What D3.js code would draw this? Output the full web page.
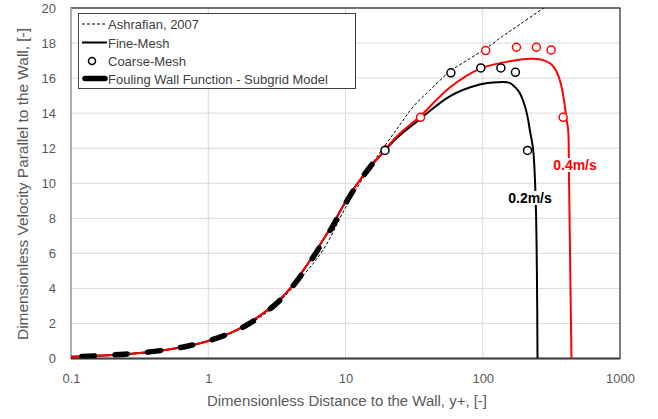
<!DOCTYPE html>
<html><head><meta charset="utf-8">
<script src="https://cdn.jsdelivr.net/npm/d3@7/dist/d3.min.js"></script>
<style>body{margin:0;background:#fff}svg{display:block}text{font-family:"Liberation Sans",Arial,sans-serif}</style>
</head><body><svg id="c" width="658" height="419"></svg>
<script>
// ---- data ----
const xTicks = [0.1, 1, 10, 100, 1000];
const xTickLabels = ["0.1", "1", "10", "100", "1000"];
const yTicks = [0, 2, 4, 6, 8, 10, 12, 14, 16, 18, 20];

const ashrafianX = [0.1,0.2,0.5,1,2,3,5,7,10,15,20,25,31,41,58,80,107,140,186,286];
const ashrafianU = [0.1,0.2,0.5,1,2.0,2.95,4.8,6.3,8.6,10.9,12.3,13.35,14.35,15.3,16.39,17.1,17.72,18.4,19.06,20.07];

const fine04X = [0.1,0.15,0.2,0.3,0.5,0.7,1,1.5,2,3,4,5,6,8,10,12,15,18,20,25,35,57,95,157,233,283,317,344,369,390,408,419,425,434,443];
const fine04U = [0.1,0.15,0.2,0.3,0.5,0.7,1.0,1.5,2.05,3.05,4.05,5.1,6.05,7.6,8.95,9.9,10.9,11.6,12.05,12.85,13.82,15.44,16.53,16.96,17.1,17.0,16.77,16.39,15.73,14.77,13.63,13.06,10.4,5,0];

const fine02X = [0.1,0.15,0.2,0.3,0.5,0.7,1,1.5,2,3,4,5,6,8,10,12,15,18,20,25,35,57.5,95,126,157,176,186,203,214,220,233,243,248,250.6];
const fine02U = [0.1,0.15,0.2,0.3,0.5,0.7,1.0,1.5,2.05,3.05,4.05,5.1,6.05,7.6,8.95,9.9,10.9,11.6,12.0,12.75,13.67,14.96,15.63,15.76,15.73,15.4,15.15,14.39,13.63,13.06,11.9,9.06,5,0];

const subgridX = [0.12,0.2,0.3,0.5,0.7,1,1.5,2,3,4,5,6,8,10,12,15,19.5];
const subgridU = [0.12,0.2,0.3,0.5,0.7,1.0,1.5,2.0,3.0,4.0,5.0,5.95,7.5,8.85,9.85,10.9,12.0];

const coarse02X = [19.4,58.6,96.8,135.5,173,212];
const coarse02U = [11.87,16.3,16.58,16.58,16.33,11.87];
const coarse04X = [35.2,105,176,246,315,385];
const coarse04U = [13.76,17.57,17.76,17.76,17.61,13.76];

const legendLabels = ["Ashrafian, 2007", "Fine-Mesh", "Coarse-Mesh", "Fouling Wall Function - Subgrid Model"];

// ---- drawing ----
const svg = d3.select("#c");
const L = 71, R = 620, T = 8, B = 358.5;
const x = d3.scaleLog().domain([0.1, 1000]).range([L, R]);
const y = d3.scaleLinear().domain([0, 20]).range([B, T]);
const zip = (xs, us) => xs.map((v, i) => [v, us[i]]);

svg.append("defs").append("clipPath").attr("id", "clip")
  .append("rect").attr("x", L).attr("y", T).attr("width", R - L).attr("height", B - T);

// gridlines
const grid = svg.append("g");
grid.selectAll("line.h").data(yTicks.slice(1)).join("line")
  .attr("x1", L).attr("x2", R).attr("y1", d => y(d)).attr("y2", d => y(d))
  .attr("stroke", "#d9d9d9").attr("stroke-width", 1);
grid.selectAll("line.v").data(xTicks.slice(1, -1)).join("line")
  .attr("y1", T).attr("y2", B).attr("x1", d => x(d)).attr("x2", d => x(d))
  .attr("stroke", "#d9d9d9").attr("stroke-width", 1);

// plot border
svg.append("rect").attr("x", L).attr("y", T).attr("width", R - L).attr("height", B - T)
  .attr("fill", "none").attr("stroke", "#262626").attr("stroke-width", 1.2);
svg.append("line").attr("x1", L).attr("x2", L).attr("y1", T).attr("y2", B)
  .attr("stroke", "#bfbfbf").attr("stroke-width", 1.5);

// axes
const xAxis = svg.append("g").attr("transform", `translate(0,${B})`)
  .call(d3.axisBottom(x).tickValues(xTicks).tickFormat((d, i) => xTickLabels[i]).tickSize(0).tickPadding(15));
const yAxis = svg.append("g").attr("transform", `translate(${L},0)`)
  .call(d3.axisLeft(y).tickValues(yTicks).tickSize(0).tickPadding(15));
[xAxis, yAxis].forEach(a => {
  a.select(".domain").remove();
  a.selectAll("text").attr("fill", "#595959").style("font-size", "13px")
    .style("font-family", '"Liberation Sans",Arial,sans-serif');
});
svg.append("line").attr("x1", L).attr("x2", R).attr("y1", B).attr("y2", B)
  .attr("stroke", "#404040").attr("stroke-width", 1.8);

// titles
svg.append("text").attr("x", 347).attr("y", 406).attr("text-anchor", "middle")
  .attr("fill", "#595959").style("font-size", "14px")
  .attr("textLength", 280).attr("lengthAdjust", "spacingAndGlyphs")
  .text("Dimensionless Distance to the Wall, y+, [-]");
svg.append("text").attr("transform", "translate(28,184) rotate(-90)").attr("text-anchor", "middle")
  .attr("fill", "#595959").style("font-size", "14px")
  .attr("textLength", 312).attr("lengthAdjust", "spacingAndGlyphs")
  .text("Dimensionless Velocity Parallel to the Wall, [-]");

const plot = svg.append("g").attr("clip-path", "url(#clip)");
const line = d3.line().x(d => x(d[0])).y(d => y(d[1])).curve(d3.curveCatmullRom.alpha(0.5));

plot.append("path").datum(zip(ashrafianX, ashrafianU)).attr("d", line)
  .attr("fill", "none").attr("stroke", "#000").attr("stroke-width", 1).attr("stroke-dasharray", "3,2");
plot.append("path").datum(zip(fine02X, fine02U)).attr("d", line)
  .attr("fill", "none").attr("stroke", "#000").attr("stroke-width", 2);
plot.append("path").datum(zip(fine04X, fine04U)).attr("d", line)
  .attr("fill", "none").attr("stroke", "#ff0000").attr("stroke-width", 2);
plot.append("path").datum(zip(subgridX, subgridU)).attr("d", line)
  .attr("fill", "none").attr("stroke", "#000").attr("stroke-width", 5.5)
  .attr("stroke-linecap", "round").attr("stroke-dasharray", "12.5,20.5");

svg.append("g").selectAll("circle").data(zip(coarse02X, coarse02U)).join("circle")
  .attr("cx", d => x(d[0])).attr("cy", d => y(d[1])).attr("r", 4)
  .attr("fill", "#fff").attr("stroke", "#000").attr("stroke-width", 1.5);
svg.append("g").selectAll("circle").data(zip(coarse04X, coarse04U)).join("circle")
  .attr("cx", d => x(d[0])).attr("cy", d => y(d[1])).attr("r", 4)
  .attr("fill", "#fff").attr("stroke", "#ff0000").attr("stroke-width", 1.5);

// velocity labels
function label(text, cx, cy, color) {
  const g = svg.append("g");
  const t = g.append("text").attr("x", cx).attr("y", cy + 5).attr("text-anchor", "middle")
    .attr("fill", color).style("font-size", "14px").style("font-weight", "bold").text(text);
  const bb = t.node().getBBox();
  g.insert("rect", "text").attr("x", bb.x - 1).attr("y", bb.y + 1).attr("width", bb.width + 2)
    .attr("height", bb.height - 2).attr("fill", "#fff");
}
label("0.2m/s", 530, 198, "#000");
label("0.4m/s", 575, 165, "#ff0000");

// legend
const lg = svg.append("g");
lg.append("rect").attr("x", 78.5).attr("y", 13.5).attr("width", 277).attr("height", 75)
  .attr("fill", "#fff").attr("stroke", "#404040").attr("stroke-width", 1);
const rows = [24, 42.5, 61, 78.5];
lg.selectAll("text").data(legendLabels).join("text")
  .attr("x", 108).attr("y", (d, i) => rows[i] + 5).attr("fill", "#404040").style("font-size", "13px")
  .text(d => d);
lg.append("line").attr("x1", 82).attr("x2", 107).attr("y1", rows[0]).attr("y2", rows[0])
  .attr("stroke", "#000").attr("stroke-width", 1).attr("stroke-dasharray", "3,2");
lg.append("line").attr("x1", 82).attr("x2", 107).attr("y1", rows[1]).attr("y2", rows[1])
  .attr("stroke", "#000").attr("stroke-width", 2);
lg.append("circle").attr("cx", 92).attr("cy", rows[2]).attr("r", 3.5)
  .attr("fill", "#fff").attr("stroke", "#000").attr("stroke-width", 1.5);
lg.append("line").attr("x1", 85).attr("x2", 105).attr("y1", rows[3]).attr("y2", rows[3])
  .attr("stroke", "#000").attr("stroke-width", 5.5).attr("stroke-linecap", "round");
</script></body></html>
